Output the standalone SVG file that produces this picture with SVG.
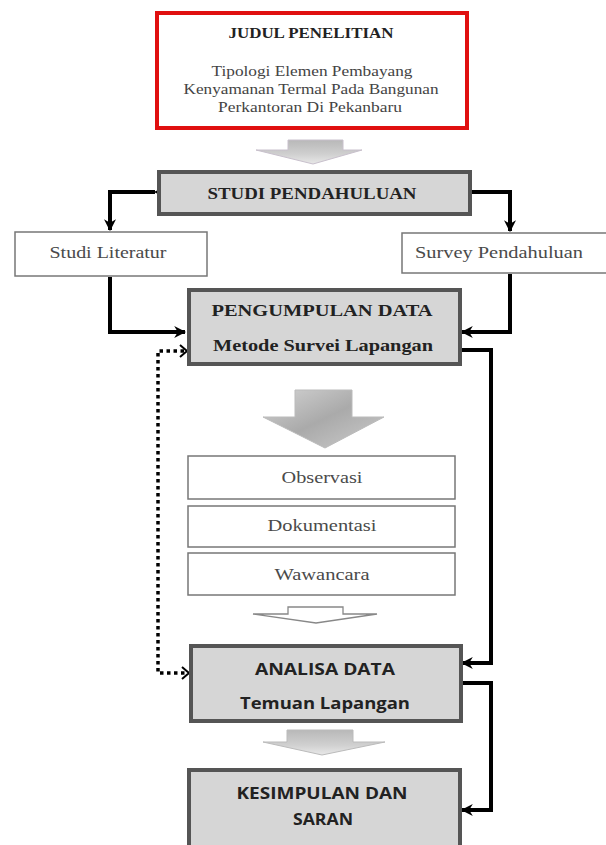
<svg xmlns="http://www.w3.org/2000/svg" width="606" height="845" viewBox="0 0 606 845">
<defs>
<style>
.serif{font-family:"Liberation Serif","Times New Roman",serif;}
.sans{font-family:"Open Sans","DejaVu Sans",sans-serif;}
.gbox{fill:#d6d6d6;stroke:#555;stroke-width:4;}
.wbox{fill:#fff;stroke:#777;stroke-width:1.5;}
.conn{fill:none;stroke:#000;stroke-width:4;}
.dot{fill:none;stroke:#000;stroke-width:3.5;stroke-dasharray:3.5 3.5;}
.lt{fill:#4a4a4a;font-size:16px;text-anchor:middle;}
.bt{fill:#222;font-weight:bold;text-anchor:middle;}
.sub{fill:#444;font-size:14px;text-anchor:middle;}
</style>
<linearGradient id="ag" x1="0" y1="0" x2="0" y2="1">
<stop offset="0" stop-color="#b8b8b8"/>
<stop offset="0.6" stop-color="#d0d0d0"/>
<stop offset="1" stop-color="#e8e8e8"/>
</linearGradient>
<linearGradient id="ag2" x1="0" y1="0" x2="1" y2="1">
<stop offset="0" stop-color="#d4d4d4"/>
<stop offset="0.5" stop-color="#aaa"/>
<stop offset="1" stop-color="#ccc"/>
</linearGradient>
<marker id="ah" viewBox="0 0 10 10" refX="9" refY="5" markerWidth="3" markerHeight="3" orient="auto">
<path d="M0,0 L10,5 L0,10 L3,5 Z" fill="#000"/>
</marker>
</defs>
<rect width="606" height="845" fill="#fff"/>

<g id="connectors">
<polyline class="conn" points="155,192 110,192 110,230" marker-start="url(#ah)" marker-end="url(#ah)"/>
<polyline class="conn" points="472,192 510,192 510,231" marker-start="url(#ah)" marker-end="url(#ah)"/>
<polyline class="conn" points="110,277 110,332 185,332" marker-end="url(#ah)"/>
<polyline class="conn" points="510,274 510,332 462,332" marker-end="url(#ah)"/>
<polyline class="conn" points="461,350 491,350 491,663 462,663" marker-end="url(#ah)"/>
<polyline class="conn" points="461,683 491,683 491,810 462,810" marker-end="url(#ah)"/>
<polyline class="dot" points="184,351 158,351 158,673 186,673"/>
<path d="M180,345 L187,351 L180,357" fill="none" stroke="#000" stroke-width="2"/>
<path d="M182,667 L189,673 L182,679" fill="none" stroke="#000" stroke-width="2"/>
<path d="M288,140 L343,140 L343,150 L362,150 L313,164 L256,150 L288,150 Z" fill="url(#ag)" stroke="#c8c0cc" stroke-width="1"/>
<path d="M295,390 L352,390 L352,417 L384,417 L325,448 L263,417 L295,417 Z" fill="url(#ag2)" stroke="#bbb" stroke-width="1"/>
<path d="M288,607 L343,607 L343,614 L377,614 L316,623 L253,614 L288,614 Z" fill="#fff" stroke="#888" stroke-width="1.3"/>
<path d="M287,730 L353,730 L353,742 L385,742 L322,755 L263,742 L287,742 Z" fill="url(#ag)" stroke="#bbb" stroke-width="1"/>
</g>

<g id="judul">
<rect x="157" y="13" width="310" height="115" fill="#fff" stroke="#e01010" stroke-width="4"/>
<text class="serif bt" x="311" y="38" font-size="14" textLength="165" lengthAdjust="spacingAndGlyphs">JUDUL PENELITIAN</text>
<text class="serif sub" x="312" y="76" textLength="201" lengthAdjust="spacingAndGlyphs">Tipologi Elemen Pembayang</text>
<text class="serif sub" x="311" y="94" textLength="255" lengthAdjust="spacingAndGlyphs">Kenyamanan Termal Pada Bangunan</text>
<text class="serif sub" x="310" y="112" textLength="184" lengthAdjust="spacingAndGlyphs">Perkantoran Di Pekanbaru</text>
</g>

<g id="studi-pendahuluan">
<rect class="gbox" x="159" y="172" width="311" height="42"/>
<text class="serif bt" x="312" y="199" font-size="16" textLength="209" lengthAdjust="spacingAndGlyphs">STUDI PENDAHULUAN</text>
</g>

<g id="studi-literatur">
<rect class="wbox" x="15" y="232" width="192" height="44"/>
<text class="serif lt" x="108" y="258" textLength="117" lengthAdjust="spacingAndGlyphs">Studi Literatur</text>
</g>

<g id="survey-pendahuluan">
<rect class="wbox" x="402" y="233" width="210" height="40"/>
<text class="serif lt" x="499" y="258" textLength="168" lengthAdjust="spacingAndGlyphs">Survey Pendahuluan</text>
</g>

<g id="pengumpulan-data">
<rect class="gbox" x="189" y="290" width="271" height="74"/>
<text class="serif bt" x="322" y="316" font-size="16" fill="#333" textLength="221" lengthAdjust="spacingAndGlyphs">PENGUMPULAN DATA</text>
<text class="serif bt" x="323" y="351" font-size="16" textLength="220" lengthAdjust="spacingAndGlyphs">Metode Survei Lapangan</text>
</g>

<g id="observasi">
<rect class="wbox" x="188" y="456" width="267" height="43"/>
<text class="serif lt" x="322" y="483" textLength="81" lengthAdjust="spacingAndGlyphs">Observasi</text>
</g>
<g id="dokumentasi">
<rect class="wbox" x="188" y="506" width="267" height="41"/>
<text class="serif lt" x="322" y="531" textLength="109" lengthAdjust="spacingAndGlyphs">Dokumentasi</text>
</g>
<g id="wawancara">
<rect class="wbox" x="188" y="553" width="267" height="42"/>
<text class="serif lt" x="322" y="580" textLength="95" lengthAdjust="spacingAndGlyphs">Wawancara</text>
</g>

<g id="analisa-data">
<rect class="gbox" x="191" y="646" width="270" height="75"/>
<text class="sans bt" x="325" y="675" font-size="16" textLength="140" lengthAdjust="spacingAndGlyphs">ANALISA DATA</text>
<text class="sans bt" x="325" y="709" font-size="16" textLength="170" lengthAdjust="spacingAndGlyphs">Temuan Lapangan</text>
</g>

<g id="kesimpulan">
<rect class="gbox" x="189" y="770" width="271" height="80"/>
<text class="sans bt" x="322" y="799" font-size="16" textLength="171" lengthAdjust="spacingAndGlyphs">KESIMPULAN DAN</text>
<text class="sans bt" x="323" y="825" font-size="16" textLength="60" lengthAdjust="spacingAndGlyphs">SARAN</text>
</g>
</svg>
